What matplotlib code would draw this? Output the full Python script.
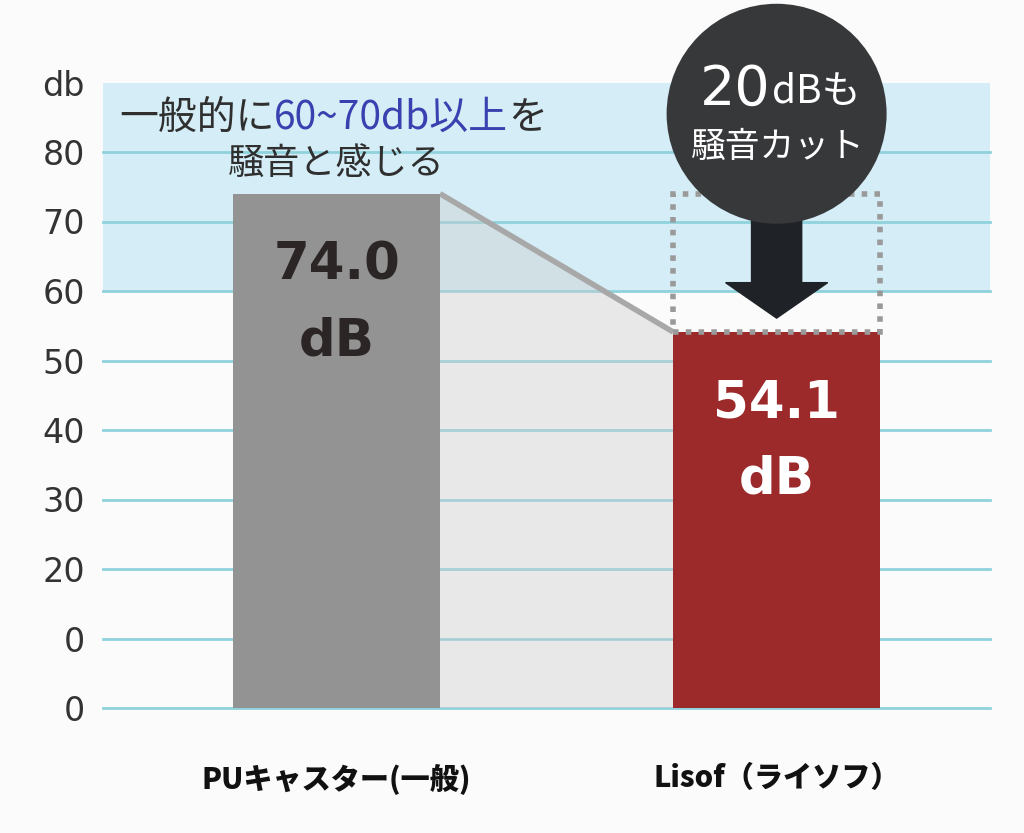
import matplotlib
matplotlib.use("Agg")
import matplotlib.pyplot as plt
from matplotlib.patches import Rectangle, Ellipse, Polygon

plt.rcParams['font.family'] = ['Noto Sans CJK JP', 'DejaVu Sans']

categories = ["PUキャスター(一般)", "Lisof（ライソフ）"]
values = [74.0, 54.1]
bar_labels = ["74.0\ndB", "54.1\ndB"]
ytick_values = [0, 10, 20, 30, 40, 50, 60, 70, 80, 90]
ytick_labels = ["0", "0", "20", "30", "40", "50", "60", "70", "80", "db"]
noise_band = [60, 90]

bar_colors = ["#939393", "#9c2a2b"]
label_colors = ["#2b2525", "#ffffff"]

fig = plt.figure(figsize=(10.24, 8.33), dpi=100)
fig.patch.set_facecolor("#fbfbfb")
ax = fig.add_axes([103/1024, (833-708)/833, (990-103)/1024, (708-82.5)/833])
ax.set_facecolor("#fbfbfb")
w = 0.47
ax.set_xlim(-0.531, 1.485)
ax.set_ylim(0, 90)

# noise band
ax.axhspan(noise_band[0], noise_band[1], color="#d4edf6", zorder=0, lw=0)
# gridlines
for v in ytick_values[:-1]:
    ax.axhline(v, color="#8fd2dc", lw=2, zorder=1, clip_on=False)

# connecting polygon
x_left = 0 + w/2
x_right = 1 - w/2
poly = Polygon([(x_left, 0), (x_left, values[0]), (x_right, values[1]), (x_right, 0)],
               closed=True, facecolor="#cdcdcd", alpha=0.4, edgecolor="none", zorder=2)
ax.add_patch(poly)
ax.plot([x_left, x_right], [values[0], values[1]], color="#a8a8a8", lw=4, zorder=3,
        solid_capstyle="butt")

bars = ax.bar([0, 1], values, width=w, color=bar_colors, zorder=4)

# bar labels
for i, (v, lab) in enumerate(zip(values, bar_labels)):
    l1, l2 = lab.split("\n")
    ax.text(i, v - 10.3, l1, ha="center", va="center", fontsize=37, fontweight="bold",
            family="DejaVu Sans", color=label_colors[i], zorder=6)
    ax.text(i, v - 21.2, l2, ha="center", va="center", fontsize=37, fontweight="bold",
            family="DejaVu Sans", color=label_colors[i], zorder=6)

# dotted box for difference
rect = Rectangle((1 - w/2, values[1]), w, values[0] - values[1], fill=False,
                 edgecolor="#9a9a9a", lw=4, linestyle=(0, (1, 1.3)), zorder=5)
ax.add_patch(rect)

# arrow
sw = 0.057
hw = 0.116
shaft_top = 72
head_base = 61.2
tip = values[1] + 2.0
ax.fill([1 - sw, 1 + sw, 1 + sw, 1 + hw, 1, 1 - hw, 1 - sw],
        [shaft_top, shaft_top, head_base, head_base, tip, head_base, head_base],
        color="#1f2328", zorder=7, clip_on=False)

# circle
circ = Ellipse((1.0, 85.5), 0.5, 220/6.95, facecolor="#37383a", edgecolor="none",
               zorder=8, clip_on=False)
ax.add_patch(circ)
ax.text(0.985, 88.9, "20", ha="right", va="center", fontsize=40, color="white",
        family="DejaVu Sans", zorder=9, clip_on=False)
ax.text(0.99, 88.6, "dBも", ha="left", va="center", fontsize=28, color="white",
        zorder=9, clip_on=False)
ax.text(1.0, 80.7, "騒音カット", ha="center", va="center", fontsize=25, color="white",
        zorder=9, clip_on=False)

# annotation about noise
fs_ann = 28
t1 = ax.text(-0.495, 84.9, "一般的に", ha="left", va="center", fontsize=fs_ann,
             color="#2f2f2f", zorder=6)
fig.canvas.draw()
r = fig.canvas.get_renderer()
bb = t1.get_window_extent(r)
inv = ax.transData.inverted()
x2 = inv.transform((bb.x1, bb.y0))[0]
t2 = ax.text(x2, 84.9, "60~70db以上", ha="left", va="center", fontsize=fs_ann,
             color="#3b40b0", zorder=6)
bb2 = t2.get_window_extent(r)
x3 = inv.transform((bb2.x1, bb2.y0))[0]
ax.text(x3, 84.9, "を", ha="left", va="center", fontsize=fs_ann, color="#2f2f2f", zorder=6)
ax.text(0.0, 78.3, "騒音と感じる", ha="center", va="center", fontsize=26,
        color="#2f2f2f", zorder=6)

# axes styling
ax.set_yticks(ytick_values)
ax.set_yticklabels(ytick_labels, fontsize=24, color="#333333", family="DejaVu Sans")
ax.set_xticks([0, 1])
ax.set_xticklabels(categories, fontsize=21, fontweight="black", color="#111111")
ax.tick_params(axis="y", length=0, pad=13)
ax.tick_params(axis="x", length=0, pad=40)
for s in ax.spines.values():
    s.set_visible(False)

fig.savefig("out.png", dpi=100, facecolor=fig.get_facecolor())
